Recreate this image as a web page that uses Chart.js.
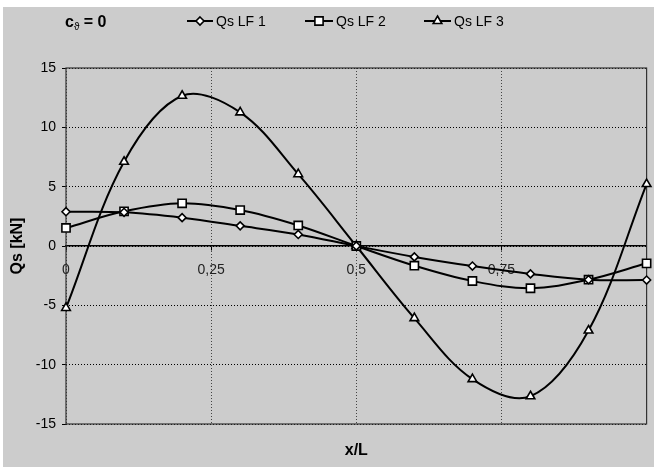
<!DOCTYPE html>
<html>
<head>
<meta charset="utf-8">
<script src="https://cdn.jsdelivr.net/npm/chart.js@4.4.1/dist/chart.umd.min.js"></script>
<style>
  html, body { margin: 0; padding: 0; background: #fff; }
  canvas { display: block; }
</style>
</head>
<body>
<canvas id="grafico" width="654" height="467"></canvas>
<script>
// x/L positions and shear force values (kN)
const posX  = [0, 0.1, 0.2, 0.3, 0.4, 0.5, 0.6, 0.7, 0.8, 0.9, 1.0];
const qsLF1 = [2.89, 2.84, 2.39, 1.70, 0.97, 0, -0.92, -1.69, -2.35, -2.84, -2.87];
const qsLF2 = [1.52, 2.92, 3.60, 3.03, 1.73, 0, -1.66, -2.95, -3.56, -2.84, -1.46];
const qsLF3 = [-5.22, 7.10, 12.66, 11.26, 6.05, 0, -6.08, -11.22, -12.66, -7.12, 5.22];
const nomes = ['Qs LF 1', 'Qs LF 2', 'Qs LF 3'];
const marcadores = ['rectRot', 'rect', 'triangle'];
const raios = [4, 5.8, 5];
const ticksX = [0, 0.25, 0.5, 0.75, 1];

const FONTE = "'Liberation Sans', Arial, sans-serif";
const CINZA = '#cccccc';

function pontos(valores) {
  return posX.map((x, i) => ({ x: x, y: valores[i] }));
}

// desenha um marcador simples (legenda)
function marcador(ctx, tipo, x, y, r) {
  ctx.beginPath();
  if (tipo === 'rectRot') {
    ctx.moveTo(x, y - r); ctx.lineTo(x + r, y); ctx.lineTo(x, y + r); ctx.lineTo(x - r, y);
  } else if (tipo === 'rect') {
    const s = r * Math.SQRT1_2;
    ctx.rect(x - s, y - s, 2 * s, 2 * s);
  } else {
    ctx.moveTo(x, y - r);
    ctx.lineTo(x + r * Math.sin(Math.PI * 2 / 3), y - r * Math.cos(Math.PI * 2 / 3));
    ctx.lineTo(x + r * Math.sin(Math.PI * 4 / 3), y - r * Math.cos(Math.PI * 4 / 3));
  }
  ctx.closePath();
  ctx.fillStyle = '#fff';
  ctx.fill();
  ctx.lineWidth = 1.6;
  ctx.strokeStyle = '#000';
  ctx.stroke();
}

const fundo = {
  id: 'fundo',
  beforeDraw(chart) {
    const ctx = chart.ctx;
    ctx.save();
    ctx.fillStyle = '#fff';
    ctx.fillRect(0, 0, chart.width, chart.height);
    ctx.fillStyle = CINZA;
    ctx.fillRect(3, 7, chart.width - 3, chart.height - 7);
    ctx.restore();
  },
  beforeDatasetsDraw(chart) {
    const { ctx, chartArea: a } = chart;
    ctx.save();
    ctx.strokeStyle = '#333';
    ctx.lineWidth = 1.2;
    ctx.strokeRect(a.left, a.top, a.right - a.left, a.bottom - a.top);
    ctx.restore();
  }
};

const cabecalho = {
  id: 'cabecalho',
  afterDraw(chart) {
    const ctx = chart.ctx;
    ctx.save();
    ctx.fillStyle = '#000';
    ctx.textBaseline = 'alphabetic';
    // titulo c_ϑ = 0
    let x = 65;
    const base = 27;
    ctx.font = 'bold 16px ' + FONTE;
    ctx.fillText('c', x, base);
    x += ctx.measureText('c').width;
    ctx.font = '10px ' + FONTE;
    ctx.fillText('\u03d1', x, base + 3);
    x += ctx.measureText('\u03d1').width;
    ctx.font = 'bold 16px ' + FONTE;
    ctx.fillText(' = 0', x, base);

    // legenda
    const itens = [
      { x1: 187, x2: 213 },
      { x1: 305, x2: 333 },
      { x1: 424, x2: 451 }
    ];
    const yl = 21;
    ctx.font = '14px ' + FONTE;
    ctx.textBaseline = 'middle';
    itens.forEach((it, i) => {
      ctx.beginPath();
      ctx.moveTo(it.x1, yl);
      ctx.lineTo(it.x2, yl);
      ctx.lineWidth = 2;
      ctx.strokeStyle = '#000';
      ctx.stroke();
      marcador(ctx, marcadores[i], (it.x1 + it.x2) / 2, yl, raios[i]);
      ctx.fillStyle = '#000';
      ctx.fillText(nomes[i], it.x2 + 3, yl + 1);
    });
    ctx.restore();
  }
};

const series = [qsLF1, qsLF2, qsLF3];

new Chart(document.getElementById('grafico').getContext('2d'), {
  type: 'line',
  data: {
    datasets: series.map((s, i) => ({
      label: nomes[i],
      data: pontos(s),
      borderColor: '#000',
      borderWidth: 2,
      tension: 0.35,
      pointStyle: marcadores[i],
      pointRadius: raios[i],
      pointBackgroundColor: '#fff',
      pointBorderColor: '#000',
      pointBorderWidth: 1.6,
      clip: false
    }))
  },
  options: {
    responsive: false,
    animation: false,
    devicePixelRatio: 1,
    layout: { padding: { left: 3, top: 68, right: 5, bottom: 0 } },
    plugins: {
      legend: { display: false },
      title: { display: false },
      tooltip: { enabled: false }
    },
    scales: {
      x: {
        type: 'linear',
        position: 'bottom',
        min: 0, max: 1,
        afterBuildTicks: s => { s.ticks = ticksX.map(v => ({ value: v })); },
        ticks: { display: false },
        grid: { color: '#444', drawTicks: false, lineWidth: 1 },
        border: { display: false, dash: [1, 2] },
        title: {
          display: true, text: 'x/L', color: '#000',
          font: { family: FONTE, size: 16, weight: 'bold' },
          padding: { top: 4, bottom: 7 }
        },
        afterFit: s => { s.height = 43; }
      },
      xz: {
        type: 'linear',
        axis: 'x',
        position: { y: 0 },
        min: 0, max: 1,
        afterBuildTicks: s => { s.ticks = ticksX.map(v => ({ value: v })); },
        ticks: {
          color: '#222',
          font: { family: FONTE, size: 14 },
          padding: 12,
          maxRotation: 0,
          autoSkip: false,
          callback: v => (v === 1 ? '' : String(v).replace('.', ','))
        },
        grid: { drawOnChartArea: false, drawTicks: true, tickLength: 4, color: '#000', lineWidth: 1 },
        border: { display: true, color: '#000', width: 1.5 },
        // eixo no zero nao deve empurrar a area do grafico
        afterFit: s => { s.paddingLeft = 0; s.paddingRight = 0; }
      },
      y: {
        type: 'linear',
        min: -15, max: 15,
        ticks: {
          stepSize: 5,
          color: '#000',
          font: { family: FONTE, size: 14 },
          padding: 6
        },
        grid: { color: '#000', tickLength: 4, lineWidth: 1 },
        border: { display: false, dash: [1, 2] },
        title: {
          display: true, text: 'Qs [kN]', color: '#000',
          font: { family: FONTE, size: 16, weight: 'bold' },
          padding: { top: 5, bottom: 4 }
        },
        afterFit: s => { s.width = 63; }
      }
    }
  },
  plugins: [fundo, cabecalho]
});
</script>
</body>
</html>
